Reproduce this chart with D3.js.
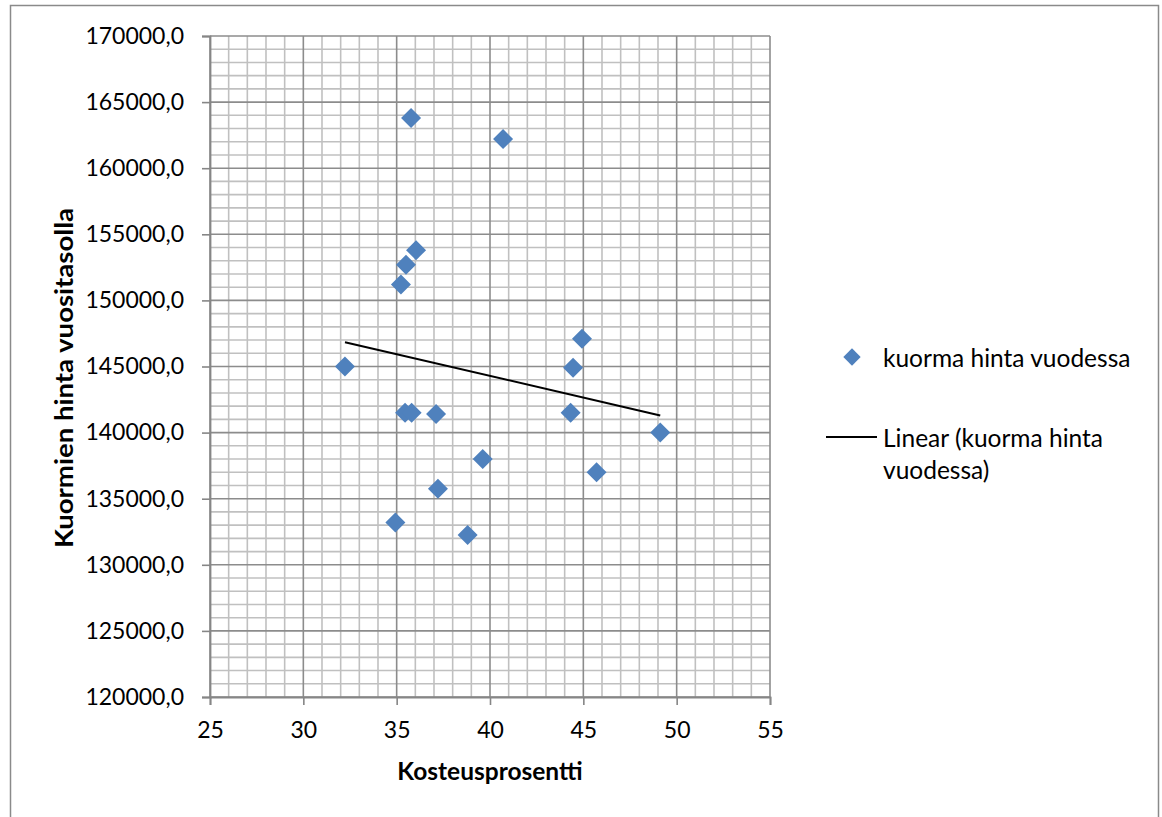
<!DOCTYPE html>
<html>
<head>
<meta charset="utf-8">
<script src="https://cdn.jsdelivr.net/npm/d3@7"></script>
<style>
  html, body { margin: 0; padding: 0; background: #fff; }
  svg { display: block; font-family: Lato, "Open Sans", sans-serif; }
</style>
</head>
<body>
<svg id="chart" width="1162" height="817"></svg>
<script>
// Moisture percentage (x) and yearly load price (y) per observation
const moisture = [35.77, 40.70, 36.04, 35.50, 35.23, 44.93, 32.23, 44.45, 35.45,
                  35.80, 37.11, 44.32, 49.12, 39.61, 45.71, 37.21, 34.93, 38.80];
const price = [163800, 162200, 153800, 152700, 151200, 147100, 145000, 144900, 141500,
               141500, 141400, 141500, 140000, 138000, 137000, 135750, 133200, 132250];

const xTicks = [25, 30, 35, 40, 45, 50, 55];
const yTicks = [120000, 125000, 130000, 135000, 140000, 145000, 150000, 155000, 160000, 165000, 170000];

const seriesName = "kuorma hinta vuodessa";
const trendName = ["Linear (kuorma hinta", "vuodessa)"];
const xTitle = "Kosteusprosentti";
const yTitle = "Kuormien hinta vuositasolla";

const svg = d3.select("#chart");
const W = 1162, H = 817;
const plot = { left: 210, right: 770, top: 36, bottom: 697 };

const x = d3.scaleLinear().domain([25, 55]).range([plot.left, plot.right]);
const y = d3.scaleLinear().domain([120000, 170000]).range([plot.bottom, plot.top]);

const fmt = d3.formatLocale({ decimal: ",", thousands: "", grouping: [3], currency: ["", ""] }).format(".1f");

// Outer chart border
svg.append("rect")
  .attr("x", 10.5).attr("y", 5.5)
  .attr("width", 1148).attr("height", H + 20)
  .attr("fill", "#fff").attr("stroke", "#8a8a8a").attr("stroke-width", 1.5);

// Minor gridlines
const xMinor = d3.range(25, 56, 1).filter(v => v % 5 !== 0);
const yMinor = d3.range(120000, 170001, 1000).filter(v => v % 5000 !== 0);
const grid = svg.append("g");
grid.selectAll("line.xm").data(xMinor).join("line")
  .attr("x1", d => x(d)).attr("x2", d => x(d))
  .attr("y1", plot.top).attr("y2", plot.bottom)
  .attr("stroke", "#c0c0c0").attr("stroke-width", 1.6);
grid.selectAll("line.ym").data(yMinor).join("line")
  .attr("y1", d => y(d)).attr("y2", d => y(d))
  .attr("x1", plot.left).attr("x2", plot.right)
  .attr("stroke", "#c0c0c0").attr("stroke-width", 1.6);

// Major gridlines
grid.selectAll("line.xM").data(xTicks).join("line")
  .attr("x1", d => x(d)).attr("x2", d => x(d))
  .attr("y1", plot.top).attr("y2", plot.bottom)
  .attr("stroke", "#8c8c8c").attr("stroke-width", 1.6);
grid.selectAll("line.yM").data(yTicks).join("line")
  .attr("y1", d => y(d)).attr("y2", d => y(d))
  .attr("x1", plot.left).attr("x2", plot.right)
  .attr("stroke", "#8c8c8c").attr("stroke-width", 1.6);

// Axes
const yAxis = svg.append("g")
  .attr("transform", `translate(${plot.left},0)`)
  .call(d3.axisLeft(y).tickValues(yTicks).tickFormat(fmt).tickSize(8).tickPadding(18));
const xAxis = svg.append("g")
  .attr("transform", `translate(0,${plot.bottom})`)
  .call(d3.axisBottom(x).tickValues(xTicks).tickFormat(d3.format("d")).tickSize(8).tickPadding(17));

[yAxis, xAxis].forEach(g => {
  g.select(".domain").attr("stroke", "#868686").attr("stroke-width", 1.8);
  g.selectAll(".tick line").attr("stroke", "#868686").attr("stroke-width", 1.6);
  g.selectAll(".tick text").attr("fill", "#000").style("font-size", "23px").style("font-family", "Lato, sans-serif");
});

// Linear trend (least squares)
const n = moisture.length;
const mx = d3.mean(moisture), my = d3.mean(price);
let sxy = 0, sxx = 0;
for (let i = 0; i < n; i++) {
  sxy += (moisture[i] - mx) * (price[i] - my);
  sxx += (moisture[i] - mx) ** 2;
}
const slope = sxy / sxx, icpt = my - slope * mx;
const [x0, x1] = d3.extent(moisture);
svg.append("line")
  .attr("x1", x(x0)).attr("y1", y(icpt + slope * x0))
  .attr("x2", x(x1)).attr("y2", y(icpt + slope * x1))
  .attr("stroke", "#000").attr("stroke-width", 2);

// Diamond markers
const diamond = d3.symbol().type(d3.symbolSquare).size(200);
svg.append("g").selectAll("path").data(moisture.map((m, i) => [m, price[i]])).join("path")
  .attr("d", diamond)
  .attr("transform", d => `translate(${x(d[0])},${y(d[1])}) rotate(45)`)
  .attr("fill", "#4f81bd");

// Axis titles
svg.append("text")
  .attr("x", (plot.left + plot.right) / 2).attr("y", 780)
  .attr("text-anchor", "middle")
  .style("font-size", "24.5px").style("font-weight", "bold")
  .attr("fill", "#000")
  .text(xTitle);

svg.append("text")
  .attr("transform", `translate(63,378) rotate(-90)`)
  .attr("text-anchor", "middle").attr("dominant-baseline", "central")
  .style("font-size", "24px").style("font-weight", "bold")
  .attr("textLength", 340).attr("lengthAdjust", "spacingAndGlyphs")
  .attr("fill", "#000")
  .text(yTitle);

// Legend
const legend = svg.append("g");
legend.append("path")
  .attr("d", d3.symbol().type(d3.symbolSquare).size(150))
  .attr("transform", "translate(852,357) rotate(45)")
  .attr("fill", "#4f81bd");
legend.append("text")
  .attr("x", 883).attr("y", 357).attr("dominant-baseline", "central")
  .style("font-size", "24.5px").attr("fill", "#000")
  .text(seriesName);
legend.append("line")
  .attr("x1", 826).attr("x2", 877).attr("y1", 437).attr("y2", 437)
  .attr("stroke", "#000").attr("stroke-width", 2);
legend.selectAll("text.tr").data(trendName).join("text")
  .attr("class", "tr")
  .attr("x", 883).attr("y", (d, i) => 437 + i * 32).attr("dominant-baseline", "central")
  .style("font-size", "24.5px").attr("fill", "#000")
  .text(d => d);
</script>
</body>
</html>
